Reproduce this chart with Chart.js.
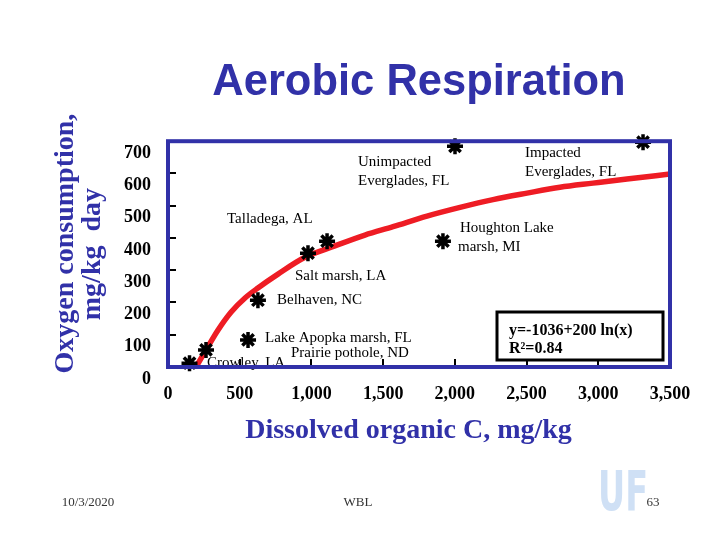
<!DOCTYPE html>
<html>
<head>
<meta charset="utf-8">
<script src="https://cdn.jsdelivr.net/npm/chart.js@4.4.1/dist/chart.umd.min.js"></script>
<style>
  html, body { margin: 0; padding: 0; background: #fff; }
  #wrap { width: 720px; height: 540px; }
</style>
</head>
<body>
<div id="wrap"><canvas id="chart"></canvas></div>
<script>
// Sites, left to right along the DOC axis
const siteNames = ['Crowley, LA', 'Prairie pothole, ND', 'Lake Apopka marsh, FL', 'Belhaven, NC',
    'Salt marsh, LA', 'Talladega, AL', 'Houghton Lake marsh, MI', 'Unimpacted Everglades, FL', 'Impacted Everglades, FL'];
const docValues = [150, 265, 558, 627, 976, 1109, 1917, 2001, 3312];   // mg/kg
const o2Values  = [12, 53, 84, 207, 353, 390, 390, 684, 697];          // mg/kg day

// fitted curve (y=-1036+200 ln(x))
const fitX = [195, 265, 349, 439, 537, 627, 767, 955, 1143, 1373, 1569, 1806, 2036, 2266, 2503, 2733, 2963, 3200, 3500];
const fitY = [0, 53, 115, 170, 214, 245, 288, 340, 372, 409, 435, 468, 495, 519, 539, 557, 570, 583, 598];

const xTicks = [0, 500, 1000, 1500, 2000, 2500, 3000, 3500];
const yTicks = [0, 100, 200, 300, 400, 500, 600, 700];

const BLUE = '#3131a8';
const SERIF = '"Liberation Serif", "Times New Roman", serif';

// text placed on the slide next to the points
const notes = [
    ['Unimpacted', 358, 162], ['Everglades, FL', 358, 181],
    ['Impacted', 525, 153], ['Everglades, FL', 525, 172],
    ['Talladega, AL', 227, 219],
    ['Houghton Lake', 460, 228], ['marsh, MI', 458, 247],
    ['Salt marsh, LA', 295, 276],
    ['Belhaven, NC', 277, 300],
    ['Lake Apopka marsh, FL', 265, 338],
    ['Prairie pothole, ND', 291, 353],
    ['Crowley, LA', 207, 363]
];

const slideDecor = {
    id: 'slideDecor',
    afterDatasetsDraw(chart) {
        const { ctx, chartArea: a } = chart;
        ctx.save();
        ctx.fillStyle = '#000';
        ctx.font = '15px ' + SERIF;
        ctx.textAlign = 'left';
        ctx.textBaseline = 'middle';
        notes.forEach(n => ctx.fillText(n[0], n[1], n[2]));

        // equation box
        ctx.strokeStyle = '#000';
        ctx.lineWidth = 3;
        ctx.fillStyle = '#fff';
        ctx.fillRect(497, 312, 166, 48);
        ctx.strokeRect(497, 312, 166, 48);
        ctx.fillStyle = '#000';
        ctx.font = 'bold 16px ' + SERIF;
        ctx.fillText('y=-1036+200 ln(x)', 509, 331);
        ctx.fillText('R\u00b2=0.84', 509, 349);

        // plot frame
        ctx.strokeStyle = BLUE;
        ctx.lineWidth = 4;
        ctx.strokeRect(a.left, a.top, a.right - a.left, a.bottom - a.top);
        ctx.restore();
    },
    afterDraw(chart) {
        const ctx = chart.ctx;
        ctx.save();
        // UF logo
        ctx.fillStyle = '#cfe0f5';
        ctx.font = 'bold 56px "DejaVu Sans", sans-serif';
        ctx.textAlign = 'left';
        ctx.textBaseline = 'alphabetic';
        const w = ctx.measureText('UF').width;
        ctx.translate(598, 510);
        ctx.scale(50 / w, 1);
        ctx.fillText('UF', 0, 0);
        ctx.setTransform(1, 0, 0, 1, 0, 0);

        ctx.fillStyle = '#333';
        ctx.font = '13px ' + SERIF;
        ctx.textAlign = 'center';
        ctx.textBaseline = 'middle';
        ctx.fillText('10/3/2020', 88, 503);
        ctx.fillText('WBL', 358, 503);
        ctx.fillText('63', 653, 503);
        ctx.restore();
    }
};

new Chart(document.getElementById('chart'), {
    type: 'scatter',
    data: {
        datasets: [{
            label: 'Sites',
            data: docValues.map((x, i) => ({ x: x, y: o2Values[i], name: siteNames[i] })),
            pointStyle: 'star',
            pointRadius: 8,
            borderWidth: 3.5,
            borderColor: '#000',
            backgroundColor: '#000',
            clip: false,
            order: 0
        }, {
            label: 'Fit',
            data: fitX.map((x, i) => ({ x: x, y: fitY[i] })),
            showLine: true,
            pointRadius: 0,
            borderColor: '#ee1c24',
            borderWidth: 5.5,
            cubicInterpolationMode: 'monotone',
            order: 1
        }]
    },
    options: {
        responsive: true,
        maintainAspectRatio: false,
        animation: false,
        events: [],
        layout: { padding: { top: 56.5, left: 40, right: 50, bottom: 83 } },
        plugins: {
            legend: { display: false },
            tooltip: { enabled: false },
            title: {
                display: true,
                text: 'Aerobic Respiration',
                color: BLUE,
                fullSize: false,
                font: { family: '"Liberation Sans", Arial, sans-serif', size: 43.5, weight: 'bold', lineHeight: 1.2 },
                padding: { top: 0, bottom: 32.5 }
            }
        },
        scales: {
            x: {
                type: 'linear',
                min: 0,
                max: 3500,
                afterBuildTicks: s => { s.ticks = xTicks.map(v => ({ value: v })); },
                afterFit: s => { s.height = 90; },
                border: { display: false },
                grid: { drawOnChartArea: false, drawTicks: true, tickLength: -8, color: '#000', lineWidth: 2 },
                ticks: {
                    color: '#000',
                    padding: 25,
                    maxRotation: 0,
                    font: { family: SERIF, size: 18, weight: 'bold' }
                },
                title: {
                    display: true,
                    text: 'Dissolved organic C, mg/kg   ',
                    color: BLUE,
                    font: { family: SERIF, size: 28, weight: 'bold', lineHeight: 1.2 },
                    padding: { top: 0, bottom: 9 }
                }
            },
            y: {
                type: 'linear',
                min: 0,
                max: 700,
                afterBuildTicks: s => { s.ticks = yTicks.map(v => ({ value: v })); },
                afterFit: s => { s.width = 128; },
                border: { display: false },
                grid: { drawOnChartArea: false, drawTicks: true, tickLength: -8, color: '#000', lineWidth: 2 },
                ticks: {
                    color: '#000',
                    padding: 25,
                    labelOffset: 12,
                    font: { family: SERIF, size: 18, weight: 'bold' }
                },
                title: {
                    display: true,
                    text: ['   Oxygen consumption,', 'mg/kg  day'],
                    color: BLUE,
                    font: { family: SERIF, size: 28, weight: 'bold', lineHeight: 0.97 },
                    padding: { top: 12.5, bottom: 0 }
                }
            }
        }
    },
    plugins: [slideDecor]
});
</script>
</body>
</html>
